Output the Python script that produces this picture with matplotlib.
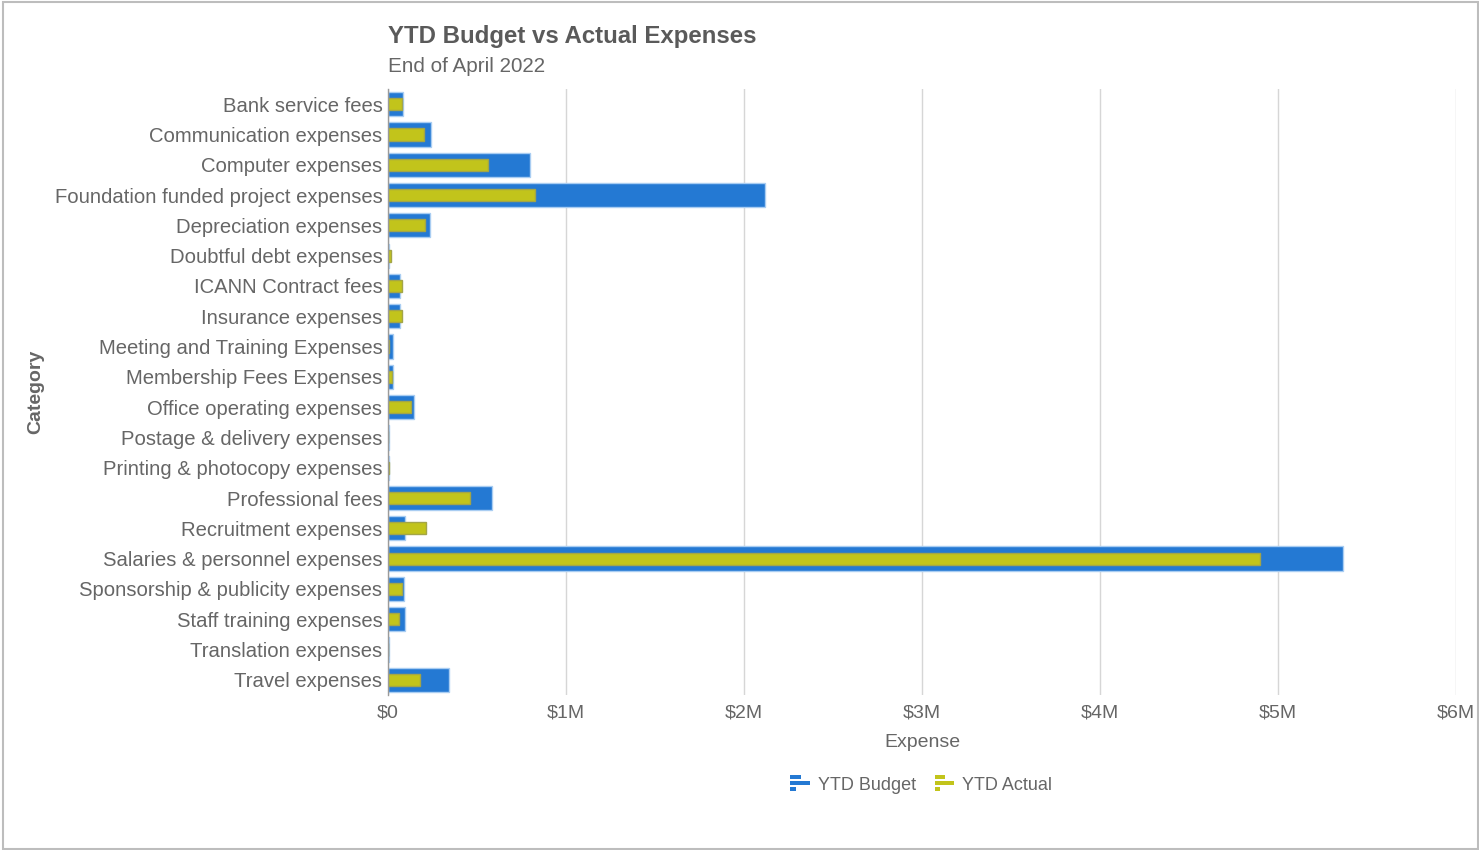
import matplotlib
matplotlib.use("Agg")
import matplotlib.pyplot as plt
import matplotlib.patches as mpatches
from matplotlib.legend_handler import HandlerBase
from matplotlib.ticker import FuncFormatter, MultipleLocator
import numpy as np

plt.rcParams['font.family'] = ['Liberation Sans', 'DejaVu Sans']

categories = [
    "Bank service fees",
    "Communication expenses",
    "Computer expenses",
    "Foundation funded project expenses",
    "Depreciation expenses",
    "Doubtful debt expenses",
    "ICANN Contract fees",
    "Insurance expenses",
    "Meeting and Training Expenses",
    "Membership Fees Expenses",
    "Office operating expenses",
    "Postage & delivery expenses",
    "Printing & photocopy expenses",
    "Professional fees",
    "Recruitment expenses",
    "Salaries & personnel expenses",
    "Sponsorship & publicity expenses",
    "Staff training expenses",
    "Translation expenses",
    "Travel expenses",
]

# YTD figures in US dollars
ytd_budget = [83000, 240000, 800000, 2120000, 235000, 7000, 70000, 70000, 27000, 27000,
              147000, 6000, 7000, 583000, 98000, 5366000, 89000, 98000, 6000, 342000]
ytd_actual = [78000, 200000, 563000, 827000, 207000, 16000, 78000, 78000, 7000, 21000,
              128000, 3000, 5000, 463000, 212000, 4896000, 78000, 63000, 2000, 179000]

BUDGET_COLOR = "#2479D3"
ACTUAL_COLOR = "#C2C41B"
TEXT_COLOR = "#666666"

fig = plt.figure(figsize=(14.79, 8.5), dpi=100)
ax = fig.add_axes([0.2623, 0.1824, 0.7222, 0.7129])

y = np.arange(len(categories))
ax.barh(y, ytd_budget, height=0.8, color=BUDGET_COLOR, edgecolor="#A9CDF2",
        linewidth=1.0, zorder=3)
ax.barh(y, ytd_actual, height=0.4, color=ACTUAL_COLOR, edgecolor="#A3A548",
        linewidth=1.0, zorder=4)

ax.set_ylim(len(categories) - 0.5, -0.5)
ax.set_xlim(0, 6_000_000)
ax.xaxis.set_major_locator(MultipleLocator(1_000_000))
ax.xaxis.set_major_formatter(FuncFormatter(
    lambda v, _: "$0" if v == 0 else f"${v / 1e6:.0f}M"))

ax.set_yticks(y)
ax.set_yticklabels(categories)
ax.tick_params(axis='y', length=0, pad=4, labelsize=14.6, labelcolor=TEXT_COLOR)
ax.tick_params(axis='x', length=0, pad=7, labelsize=14, labelcolor=TEXT_COLOR)

ax.grid(axis='x', color="#D6D6D6", linewidth=1.0, zorder=0)
for side in ("top", "right", "bottom"):
    ax.spines[side].set_visible(False)
ax.spines["left"].set_color("#9A9A9A")
ax.spines["left"].set_linewidth(1.0)
ax.spines["left"].set_zorder(5)

ax.set_xlabel("Expense", fontsize=14, color=TEXT_COLOR, labelpad=9)
ax.set_ylabel("Category", fontsize=14, color=TEXT_COLOR, fontweight="bold")
ax.yaxis.set_label_coords(-0.322, 0.5)

fig.text(0.2623, 0.9565, "YTD Budget vs Actual Expenses", fontsize=17.3,
         fontweight="bold", color="#5A5A5A", ha="left", va="center")
fig.text(0.2623, 0.9215, "End of April 2022", fontsize=14.9, color=TEXT_COLOR,
         ha="left", va="center")


class BarIconHandler(HandlerBase):
    """Draws a small three-bar glyph in the legend."""

    def create_artists(self, legend, orig_handle, xdescent, ydescent, width,
                       height, fontsize, trans):
        color = orig_handle.get_facecolor()
        bar_h = height * 0.27
        x0 = -xdescent
        rows = [(height * 0.80, 0.55), (height * 0.42, 1.0), (height * 0.04, 0.30)]
        arts = []
        for yy, frac in rows:
            r = mpatches.Rectangle((x0, yy - ydescent), width * frac, bar_h,
                                   facecolor=color, edgecolor="none",
                                   transform=trans)
            arts.append(r)
        return arts


h_budget = mpatches.Patch(facecolor=BUDGET_COLOR, label="YTD Budget")
h_actual = mpatches.Patch(facecolor=ACTUAL_COLOR, label="YTD Actual")
leg = fig.legend(handles=[h_budget, h_actual], loc="center",
                 bbox_to_anchor=(0.623, 0.0765), ncol=2, frameon=False,
                 fontsize=13, handlelength=1.1, handleheight=1.0,
                 handletextpad=0.45, columnspacing=1.0,
                 handler_map={mpatches.Patch: BarIconHandler()})
for t in leg.get_texts():
    t.set_color(TEXT_COLOR)

# outer frame
fig.patches.append(mpatches.Rectangle((0.0018, 0.0012), 0.9975, 0.9965,
                                      transform=fig.transFigure, fill=False,
                                      edgecolor="#BDBDBD", linewidth=1.5))

fig.savefig("out.png", dpi=100, facecolor="white")
